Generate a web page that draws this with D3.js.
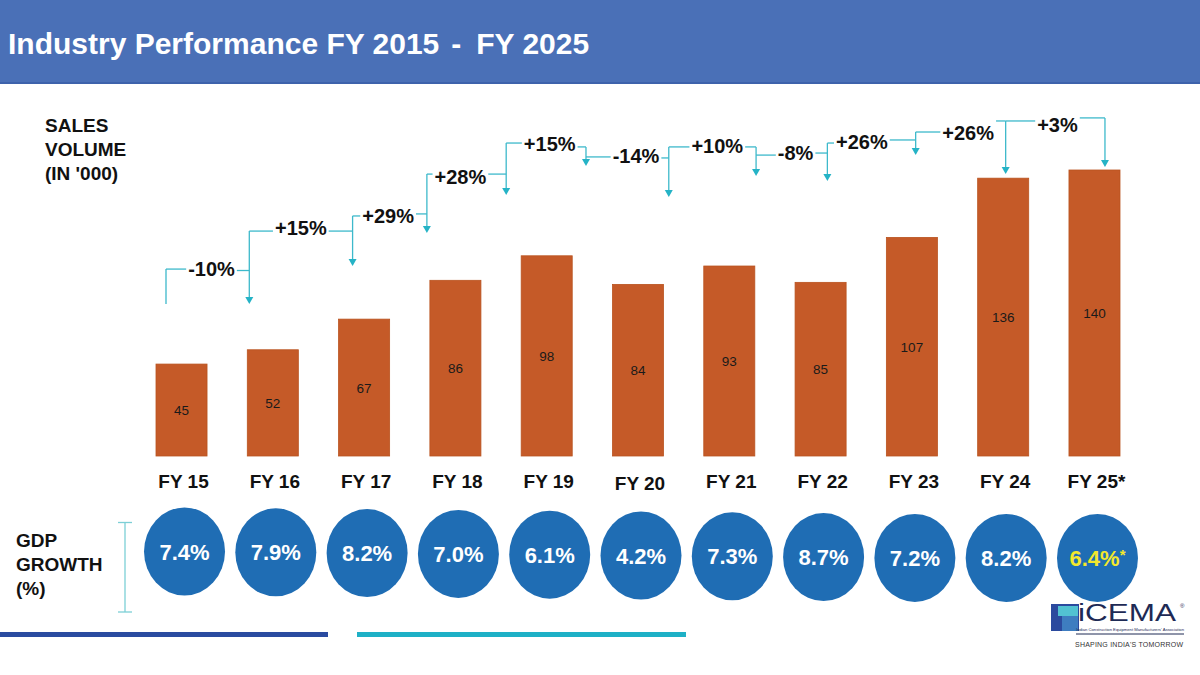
<!DOCTYPE html>
<html>
<head>
<meta charset="utf-8">
<script src="https://cdn.jsdelivr.net/npm/d3@7"></script>
<style>
  html, body { margin: 0; padding: 0; background: #ffffff; }
  svg { display: block; }
  text { font-family: "Liberation Sans", Arial, sans-serif; }
</style>
</head>
<body>
<svg id="chart" width="1200" height="675"></svg>
<script>
// ---------------- DATA ----------------
const categories = ["FY 15", "FY 16", "FY 17", "FY 18", "FY 19", "FY 20", "FY 21", "FY 22", "FY 23", "FY 24", "FY 25*"];
const salesVolume = [45, 52, 67, 86, 98, 84, 93, 85, 107, 136, 140];
const growthLabels = ["-10%", "+15%", "+29%", "+28%", "+15%", "-14%", "+10%", "-8%", "+26%", "+26%", "+3%"];
const gdpGrowth = ["7.4%", "7.9%", "8.2%", "7.0%", "6.1%", "4.2%", "7.3%", "8.7%", "7.2%", "8.2%", "6.4%"];
const gdpEstimated = [false, false, false, false, false, false, false, false, false, false, true];

// ------------- ANNOTATION LAYOUT (staircase of growth arrows) -------------
// level values are in sales units (mapped through the y scale); x offsets in px from bands
const labelDx   = [30, 28, 24, 5, 3, -2, -12, -25, -50, -35, -37];
const labelLvl  = [91.5, 111.6, 117.5, 136.7, 152.7, 147.0, 151.7, 148.3, 153.9, 158.1, 162.0];
const leftLvl   = [91.5, 110.1, 117.5, 138.0, 153.2, 146.4, 151.3, 147.3, 153.2, 158.6, 164.0];
const rightLvl  = [90.8, 110.1, 118.5, 138.0, 151.3, 145.9, 151.3, 148.3, 154.7, 164.0, 165.5];
// verticals: [band index, offset from band start, bottom/tip level]
const verticals = [[0, 10, 74.4], [1, 2, 74.4], [2, 14, 93.0], [3, -3, 109.2], [4, -15, 127.8],
                   [5, -26.5, 142.0], [6, -35, 126.8], [7, -39, 137.1], [8, -59, 134.6],
                   [9, -62, 147.3], [9, 28, 138.0], [10, 36, 141.5]];

// ---------------- SETUP ----------------
const svg = d3.select("#chart");
const W = 1200, H = 675;

svg.append("rect").attr("x", 0).attr("y", 0).attr("width", W).attr("height", H).attr("fill", "#ffffff");

// Header band
svg.append("rect").attr("x", 0).attr("y", 0).attr("width", W).attr("height", 83).attr("fill", "#4A70B7");
svg.append("rect").attr("x", 0).attr("y", 82).attr("width", W).attr("height", 2).attr("fill", "#3D62AB");
const title = svg.append("text").attr("x", 8).attr("y", 54)
  .attr("fill", "#ffffff").attr("font-size", 30).attr("font-weight", "bold");
title.append("tspan").text("Industry Performance FY 2015");
title.append("tspan").attr("dx", 12).text("-");
title.append("tspan").attr("dx", 15).text("FY 2025");

// Scales
const x = d3.scaleBand().domain(categories).range([135.85, 1140.15]).paddingInner(0.441).paddingOuter(0.2207);
const y = d3.scaleLinear().domain([0, 140]).range([456, 170]);
const cx = c => x(c) + x.bandwidth() / 2;

// Left label: sales volume
const sv = svg.append("text").attr("x", 45).attr("y", 132).attr("font-size", 19).attr("font-weight", "bold").attr("fill", "#111");
["SALES", "VOLUME", "(IN '000)"].forEach((t, i) => sv.append("tspan").attr("x", 45).attr("dy", i === 0 ? 0 : 24).text(t));

// Bars
svg.append("g").selectAll("rect").data(salesVolume).join("rect")
  .attr("x", (d, i) => x(categories[i]))
  .attr("y", d => y(d))
  .attr("width", x.bandwidth())
  .attr("height", d => y(0) - y(d))
  .attr("fill", "#C55A28")
  .attr("stroke", "#B9531F").attr("stroke-width", 0.8);

// Value labels centred in bars
svg.append("g").selectAll("text").data(salesVolume).join("text")
  .attr("x", (d, i) => cx(categories[i]))
  .attr("y", d => (y(d) + y(0)) / 2 + 5)
  .attr("text-anchor", "middle")
  .attr("font-family", "'Open Sans', 'Noto Sans', sans-serif")
  .attr("font-size", 13.5)
  .attr("fill", "#1a1a1a")
  .text(d => d);

// Category axis labels (axis without line/ticks)
const xAxis = d3.axisBottom(x).tickSize(0).tickPadding(0);
const gx = svg.append("g").attr("transform", "translate(0,472)").call(xAxis);
gx.select(".domain").remove();
gx.selectAll("text")
  .attr("font-family", "'Liberation Sans', Arial, sans-serif")
  .attr("font-size", 19).attr("font-weight", "bold").attr("fill", "#111")
  .attr("dy", d => d === "FY 20" ? "0.95em" : "0.85em")
  .attr("dx", 2);

// Growth staircase annotations
const teal = "#3DB9CB";
const ag = svg.append("g");
const labelBoxes = growthLabels.map((t, i) => {
  const tx = cx(categories[i]) + labelDx[i];
  const txt = ag.append("text").attr("x", tx).attr("y", y(labelLvl[i]) + 7)
    .attr("text-anchor", "middle").attr("font-size", 20).attr("font-weight", "bold").attr("fill", "#111").text(t);
  const w = txt.node().getComputedTextLength();
  return { left: tx - w / 2, right: tx + w / 2 };
});
const vx = verticals.map(v => x(categories[v[0]]) + v[1]);

const lineGen = d3.line();
growthLabels.forEach((t, i) => {
  const b = labelBoxes[i];
  ag.append("path").attr("d", lineGen([[vx[i], y(leftLvl[i])], [b.left - 2, y(leftLvl[i])]]))
    .attr("stroke", teal).attr("stroke-width", 1.3).attr("fill", "none");
  ag.append("path").attr("d", lineGen([[b.right + 2, y(rightLvl[i])], [vx[i + 1], y(rightLvl[i])]]))
    .attr("stroke", teal).attr("stroke-width", 1.3).attr("fill", "none");
});
verticals.forEach((v, j) => {
  const top = j === 0 ? y(leftLvl[0]) : Math.min(y(rightLvl[j - 1]), j < leftLvl.length ? y(leftLvl[j]) : Infinity);
  const tip = y(v[2]);
  const hasHead = j > 0;
  ag.append("path").attr("d", lineGen([[vx[j], top], [vx[j], hasHead ? tip - 5 : tip]]))
    .attr("stroke", teal).attr("stroke-width", 1.3).attr("fill", "none");
  if (hasHead) {
    ag.append("path")
      .attr("d", `M${vx[j] - 4},${tip - 7} L${vx[j] + 4},${tip - 7} L${vx[j]},${tip} Z`)
      .attr("fill", "#25B3C6");
  }
});

// GDP label and bracket
const gl = svg.append("text").attr("x", 16).attr("y", 547).attr("font-size", 19).attr("font-weight", "bold").attr("fill", "#111");
["GDP", "GROWTH", "(%)"].forEach((t, i) => gl.append("tspan").attr("x", 16).attr("dy", i === 0 ? 0 : 24).text(t));
const br = svg.append("g").attr("stroke", "#7CCFD6").attr("stroke-width", 1.3);
br.append("line").attr("x1", 125).attr("x2", 125).attr("y1", 522.5).attr("y2", 612);
br.append("line").attr("x1", 118).attr("x2", 132).attr("y1", 522.5).attr("y2", 522.5);
br.append("line").attr("x1", 118).attr("x2", 132).attr("y1", 612).attr("y2", 612);

// GDP circles
const cg = svg.append("g").selectAll("g").data(gdpGrowth).join("g")
  .attr("transform", (d, i) => `translate(${cx(categories[i]) + 3},${551.5 + Math.min(i, 8) * 0.8})`);
cg.append("ellipse").attr("rx", 40.5).attr("ry", 44).attr("fill", "#1F6DB4");
const ct = cg.append("text").attr("text-anchor", "middle").attr("y", 8)
  .attr("font-size", 22).attr("font-weight", "bold")
  .attr("fill", (d, i) => gdpEstimated[i] ? "#F3E82C" : "#ffffff");
ct.append("tspan").text(d => d);
ct.filter((d, i) => gdpEstimated[i]).append("tspan").attr("dy", -6).attr("font-size", 15).text("*");

// Bottom lines
svg.append("rect").attr("x", 0).attr("y", 632).attr("width", 328).attr("height", 5).attr("fill", "#2A4BA0");
svg.append("rect").attr("x", 357).attr("y", 632).attr("width", 329).attr("height", 5).attr("fill", "#1EB0C6");

// Logo
const lg = svg.append("g");
lg.append("rect").attr("x", 1051).attr("y", 604).attr("width", 28).attr("height", 27).attr("fill", "#2B4A9E");
lg.append("rect").attr("x", 1058).attr("y", 606).attr("width", 20).attr("height", 10).attr("fill", "#52C2D2");
lg.append("rect").attr("x", 1062).attr("y", 616).attr("width", 16).attr("height", 15).attr("fill", "#3E7DC0");
lg.append("text").attr("x", 1078).attr("y", 621).attr("font-size", 23).attr("fill", "#1E2A55")
  .attr("font-family", "'DejaVu Sans', sans-serif").attr("textLength", 98).attr("lengthAdjust", "spacingAndGlyphs").text("iCEMA");
lg.append("text").attr("x", 1180).attr("y", 608).attr("font-size", 6).attr("fill", "#1E2A55").text("®");
lg.append("text").attr("x", 1076).attr("y", 631).attr("font-size", 4).attr("fill", "#1E2A55")
  .attr("textLength", 108).attr("lengthAdjust", "spacingAndGlyphs").text("Indian Construction Equipment Manufacturers' Association");
lg.append("line").attr("x1", 1076).attr("x2", 1184).attr("y1", 634).attr("y2", 634).attr("stroke", "#1E2A55").attr("stroke-width", 1);
lg.append("text").attr("x", 1075).attr("y", 647).attr("font-size", 7).attr("fill", "#333")
  .attr("textLength", 108).attr("lengthAdjust", "spacing").text("SHAPING INDIA'S TOMORROW");
</script>
</body>
</html>
